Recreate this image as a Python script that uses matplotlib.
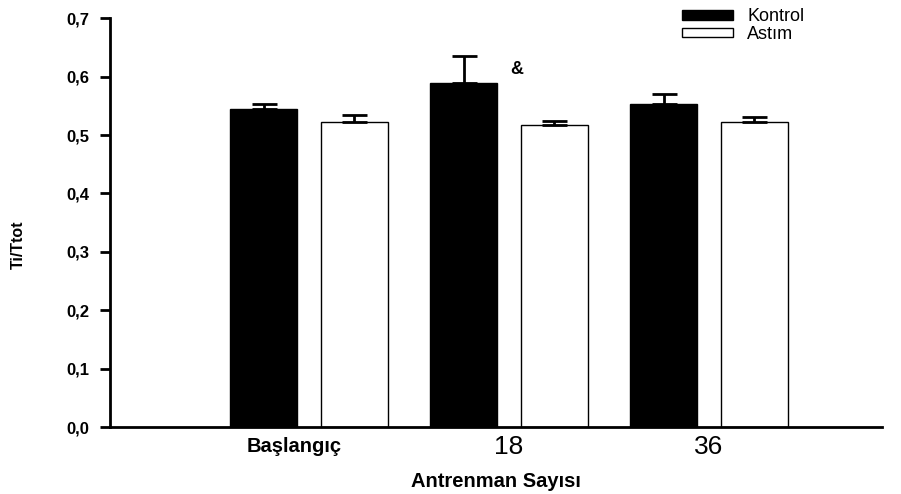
import matplotlib
matplotlib.use("Agg")
import matplotlib.pyplot as plt
import numpy as np

plt.rcParams['font.family'] = ['Liberation Sans', 'DejaVu Sans']

categories = ["Başlangıç", "18", "36"]
kontrol = [0.544, 0.589, 0.553]
kontrol_err = [0.009, 0.047, 0.017]
astim = [0.522, 0.518, 0.522]
astim_err = [0.012, 0.006, 0.009]
yticks = [0.0, 0.1, 0.2, 0.3, 0.4, 0.5, 0.6, 0.7]
ytick_labels = ["0,0", "0,1", "0,2", "0,3", "0,4", "0,5", "0,6", "0,7"]

fig = plt.figure(figsize=(9.01, 4.94), dpi=100)
ax = fig.add_axes([110/901, 1-427/494, 772/901, (427-18.3)/494])

x = np.arange(len(categories))
w = 0.335
off = 0.2265
ax.bar(x - off, kontrol, w, color='black', edgecolor='black', linewidth=1, label='Kontrol', zorder=2)
ax.bar(x + off, astim, w, color='white', edgecolor='black', linewidth=1, label='Astım', zorder=2)
ax.errorbar(x - off, kontrol, yerr=[np.zeros(3), kontrol_err], fmt='none', ecolor='black',
            elinewidth=2, capsize=9, capthick=2, zorder=3)
ax.errorbar(x + off, astim, yerr=[np.zeros(3), astim_err], fmt='none', ecolor='black',
            elinewidth=2, capsize=9, capthick=2, zorder=3)

ax.text(x[1] + 0.04, 0.612, "&", fontsize=13, fontweight='bold', ha='center', va='center')

ax.set_xlim(-0.995, 2.865)
ax.set_ylim(0, 0.7)
ax.set_yticks(yticks)
ax.set_yticklabels(ytick_labels, fontsize=12, fontweight='bold')
ax.set_xticks(x)
ax.set_xticklabels([""] + categories[1:], fontsize=19)
ax.annotate(categories[0], xy=(x[0], 0), xycoords=('data', 'axes fraction'),
            xytext=(-11, -7), textcoords='offset points', ha='center', va='top',
            fontsize=14.5, fontweight='bold')
ax.tick_params(axis='x', length=0, pad=6)
ax.tick_params(axis='y', length=7, width=2, direction='out', pad=8)
ax.spines['top'].set_visible(False)
ax.spines['right'].set_visible(False)
ax.spines['left'].set_linewidth(2)
ax.spines['bottom'].set_linewidth(2)

ax.set_xlabel("Antrenman Sayısı", fontsize=14.5, fontweight='bold', labelpad=9)
fig.text(18/901, 1-245/494, "Ti/Ttot", rotation=90, fontsize=11.5, fontweight='bold',
         ha='center', va='center')

leg = ax.legend(loc='upper left', bbox_to_anchor=(682/901, 1-8/494), bbox_transform=fig.transFigure,
                frameon=False, fontsize=13, handlelength=2.83, handleheight=0.47,
                labelspacing=0.05, borderpad=0, borderaxespad=0, handletextpad=0.78)

fig.savefig("out.png", dpi=100)
